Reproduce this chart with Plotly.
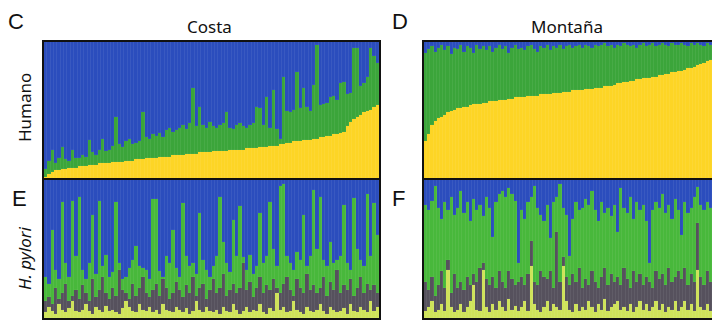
import plotly.graph_objects as go

# ---------------- DATA (percent) ----------------
# Panel C  (Humano, Costa): cumulative tops from bottom
costa_hum_yellow = [2,4,6,7,7,8,8,9,9,9,
                    10,10,10,11,11,11,12,12,12,12,
                    13,13,13,13,14,14,14,15,15,15,
                    16,16,16,16,17,17,17,17,18,18,
                    18,18,19,19,19,19,20,20,20,20,
                    21,21,21,21,21,22,22,22,22,22,
                    23,23,23,23,24,24,24,25,25,25,
                    26,26,27,27,28,28,28,29,29,29,
                    30,30,31,31,32,32,33,33,34,35,
                    39,42,44,46,47,49,50,51,53,54]
costa_hum_green_top = [8,14,22,12,16,24,15,14,22,16,
                       16,18,17,29,20,18,22,30,21,22,
                       25,46,26,24,28,30,26,27,28,49,
                       31,30,33,32,34,31,36,38,35,36,
                       38,40,37,41,67,39,53,40,38,42,
                       39,38,40,41,49,38,37,40,41,39,
                       38,40,41,53,52,40,60,38,65,37,
                       30,75,50,49,51,78,52,67,53,50,
                       69,98,54,55,56,60,61,58,70,71,
                       62,63,96,96,68,70,75,96,90,85]

# Panel D  (Humano, Montaña)
mont_hum_yellow = [28,33,40,43,45,46,47,49,50,51,
                   52,52,53,53,54,55,55,55,56,56,
                   57,57,57,58,58,58,59,59,60,60,
                   60,60,61,61,61,61,62,62,62,62,
                   63,63,63,64,64,64,65,65,65,65,
                   66,66,66,67,67,67,68,68,68,69,
                   70,70,71,71,72,72,73,73,74,74,
                   74,75,75,76,76,77,77,78,78,79,
                   79,80,81,81,82,83,84,85,86,87]
mont_hum_green_top = [92,95,97,93,96,98,94,97,91,96,
                      95,98,93,97,96,92,98,95,97,94,
                      97,93,96,98,95,97,92,96,98,95,
                      96,94,97,98,95,93,97,96,98,94,
                      97,96,98,95,97,98,96,97,98,96,
                      98,97,96,98,97,98,99,97,98,96,
                      98,97,99,98,97,98,96,98,99,97,
                      98,99,97,98,99,98,97,99,98,98,
                      99,98,97,99,98,99,98,97,99,98]

# Panel E  (H. pylori, Costa): cumulative tops
costa_hp_light = [4,8,5,3,10,6,4,7,12,5,
                  4,6,10,5,3,8,6,4,9,5,
                  6,4,3,7,12,8,5,4,10,6,
                  5,8,4,6,3,10,6,5,4,8,
                  6,4,7,3,5,12,6,4,8,5,
                  4,6,3,8,5,4,10,6,3,5,
                  8,4,6,5,10,4,3,7,5,18,
                  6,8,4,5,12,6,4,3,8,5,
                  4,6,10,5,3,8,6,4,5,7,
                  3,10,5,4,8,6,4,12,5,8]
costa_hp_gray_top = [12,15,10,22,14,18,25,12,16,20,
                     14,24,18,12,28,15,20,30,18,14,
                     22,16,35,20,18,14,25,16,22,30,
                     18,15,20,25,16,28,22,14,18,26,
                     20,15,24,18,30,16,22,25,14,20,
                     28,18,22,32,16,20,25,18,22,40,
                     20,26,15,22,30,18,24,20,28,22,
                     18,25,30,20,16,28,22,18,32,20,
                     24,18,22,30,16,26,20,35,18,24,
                     20,28,16,22,30,18,25,20,24,18]
costa_hp_green_top = [30,25,64,35,28,84,40,30,85,45,
                      88,35,28,40,75,32,85,38,46,30,
                      33,84,40,28,30,36,42,52,38,36,
                      35,28,86,86,34,30,45,40,64,36,
                      30,83,45,38,40,32,76,42,35,30,
                      38,45,88,55,40,33,71,45,81,44,
                      35,46,32,38,76,40,45,84,50,38,
                      96,97,45,40,35,48,42,75,38,45,
                      93,50,88,42,38,55,40,42,45,82,
                      40,35,87,50,42,38,90,45,83,60]

# Panel F  (H. pylori, Montaña)
mont_hp_light = [5,8,12,4,6,10,5,35,8,4,
                 6,10,4,8,12,24,6,5,35,8,
                 4,10,6,12,8,5,14,6,9,5,
                 8,12,5,38,10,6,4,8,12,5,
                 10,8,6,38,12,6,4,10,5,8,
                 6,12,8,4,10,6,14,5,8,10,
                 12,6,8,5,10,4,8,12,6,10,
                 5,8,12,6,10,4,8,6,12,5,
                 8,12,6,10,5,35,8,6,10,5]
mont_hp_gray_top = [26,20,30,16,24,34,22,42,18,32,
                    22,26,20,30,24,32,26,36,40,28,
                    24,30,22,34,26,22,34,28,24,26,
                    30,24,32,56,26,24,34,30,28,34,
                    22,62,26,44,30,24,32,26,36,22,
                    28,24,34,26,22,30,36,24,32,26,
                    30,24,36,28,22,34,26,32,24,30,
                    26,22,34,28,32,24,36,26,30,34,
                    28,36,24,32,26,69,30,24,34,26]
mont_hp_green_top = [82,78,85,96,80,72,84,78,88,75,
                     80,92,76,84,70,86,78,82,74,88,
                     80,59,84,90,92,88,94,90,85,40,
                     78,72,84,88,96,80,75,70,82,58,
                     84,88,97,80,75,45,72,84,78,80,
                     86,82,92,78,70,84,76,80,74,82,
                     62,94,80,76,88,72,84,78,82,70,
                     40,78,84,80,90,76,82,72,86,78,
                     60,84,76,80,88,95,82,78,84,80]

col_titles = ["Costa", "Montaña"]
row_titles = ["Humano", "<i>H. pylori</i>"]
panel_letters = ["C", "D", "E", "F"]

# ---------------- STYLE ----------------
BLUE = "#2b4dbd"
GREEN_H = "#3ba53a"
GREEN_P = "#48b83b"
YELLOW = "#fdd525"
GRAY = "#56515d"
LIGHT = "#cfe35a"
SEP = dict(width=0.3, color="rgba(255,255,255,0.12)")

W, H = 712, 320
def px_x(v): return v / W
def px_y(v): return 1 - v / H

fig = go.Figure()

def stack(ax, segments):
    n = len(segments[0][0])
    xs = list(range(n))
    for vals, color in segments:
        fig.add_trace(go.Bar(x=xs, y=vals, marker=dict(color=color, line=SEP),
                             xaxis="x" + ax, yaxis="y" + ax, showlegend=False,
                             hoverinfo="skip"))

def diff(a, b):
    return [p - q for p, q in zip(a, b)]

# C
stack("", [(costa_hum_yellow, YELLOW),
           (diff(costa_hum_green_top, costa_hum_yellow), GREEN_H),
           ([100 - t for t in costa_hum_green_top], BLUE)])
# D
stack("2", [(mont_hum_yellow, YELLOW),
            (diff(mont_hum_green_top, mont_hum_yellow), GREEN_H),
            ([100 - t for t in mont_hum_green_top], BLUE)])
# E
stack("3", [(costa_hp_light, LIGHT),
            (diff(costa_hp_gray_top, costa_hp_light), GRAY),
            (diff(costa_hp_green_top, costa_hp_gray_top), GREEN_P),
            ([100 - t for t in costa_hp_green_top], BLUE)])
# F
stack("4", [(mont_hp_light, LIGHT),
            (diff(mont_hp_gray_top, mont_hp_light), GRAY),
            (diff(mont_hp_green_top, mont_hp_gray_top), GREEN_P),
            ([100 - t for t in mont_hp_green_top], BLUE)])

xl = [px_x(44), px_x(379)]
xr = [px_x(424), 1.0]
yt = [px_y(180), px_y(42)]
yb = [px_y(318), px_y(180)]

def xax(dom, n, anchor):
    return dict(domain=dom, range=[-0.5, n - 0.5], showgrid=False, zeroline=False,
                showticklabels=False, ticks="", showline=True, linecolor="#111",
                linewidth=2, mirror=True, anchor=anchor, fixedrange=True)

def yax(dom, anchor, mirror):
    return dict(domain=dom, range=[0, 100], showgrid=False, zeroline=False,
                showticklabels=False, ticks="", showline=True, linecolor="#111",
                linewidth=2, mirror=mirror, anchor=anchor, fixedrange=True)

fig.update_layout(
    width=W, height=H, margin=dict(l=0, r=0, t=0, b=0),
    paper_bgcolor="white", plot_bgcolor="white",
    barmode="stack", bargap=0,
    xaxis=xax(xl, len(costa_hum_yellow), "y"),
    yaxis=yax(yt, "x", True),
    xaxis2=xax(xr, len(mont_hum_yellow), "y2"),
    yaxis2=yax(yt, "x2", False),
    xaxis3=xax(xl, len(costa_hp_light), "y3"),
    yaxis3=yax(yb, "x3", True),
    xaxis4=xax(xr, len(mont_hp_light), "y4"),
    yaxis4=yax(yb, "x4", False),
)

ann = []
title_font = dict(family="Noto Sans, Open Sans, sans-serif", size=17, color="#111")
letter_font = dict(family="Liberation Sans, Arial, sans-serif", size=22, color="#111")
ann.append(dict(text=col_titles[0], x=px_x(209), y=px_y(26), font=title_font))
ann.append(dict(text=col_titles[1], x=px_x(567), y=px_y(27), font=title_font))
ann.append(dict(text=row_titles[0], x=px_x(24), y=px_y(108), textangle=-90, font=title_font))
ann.append(dict(text=row_titles[1], x=px_x(24), y=px_y(259), textangle=-90, font=title_font))
for t, (x, y) in zip(panel_letters, [(16, 22), (400, 22), (19, 198), (398, 198)]):
    ann.append(dict(text=t, x=px_x(x), y=px_y(y), font=letter_font))
for a in ann:
    a.update(xref="paper", yref="paper", showarrow=False, xanchor="center", yanchor="middle")
fig.update_layout(annotations=ann)

fig.write_html("out.html")
